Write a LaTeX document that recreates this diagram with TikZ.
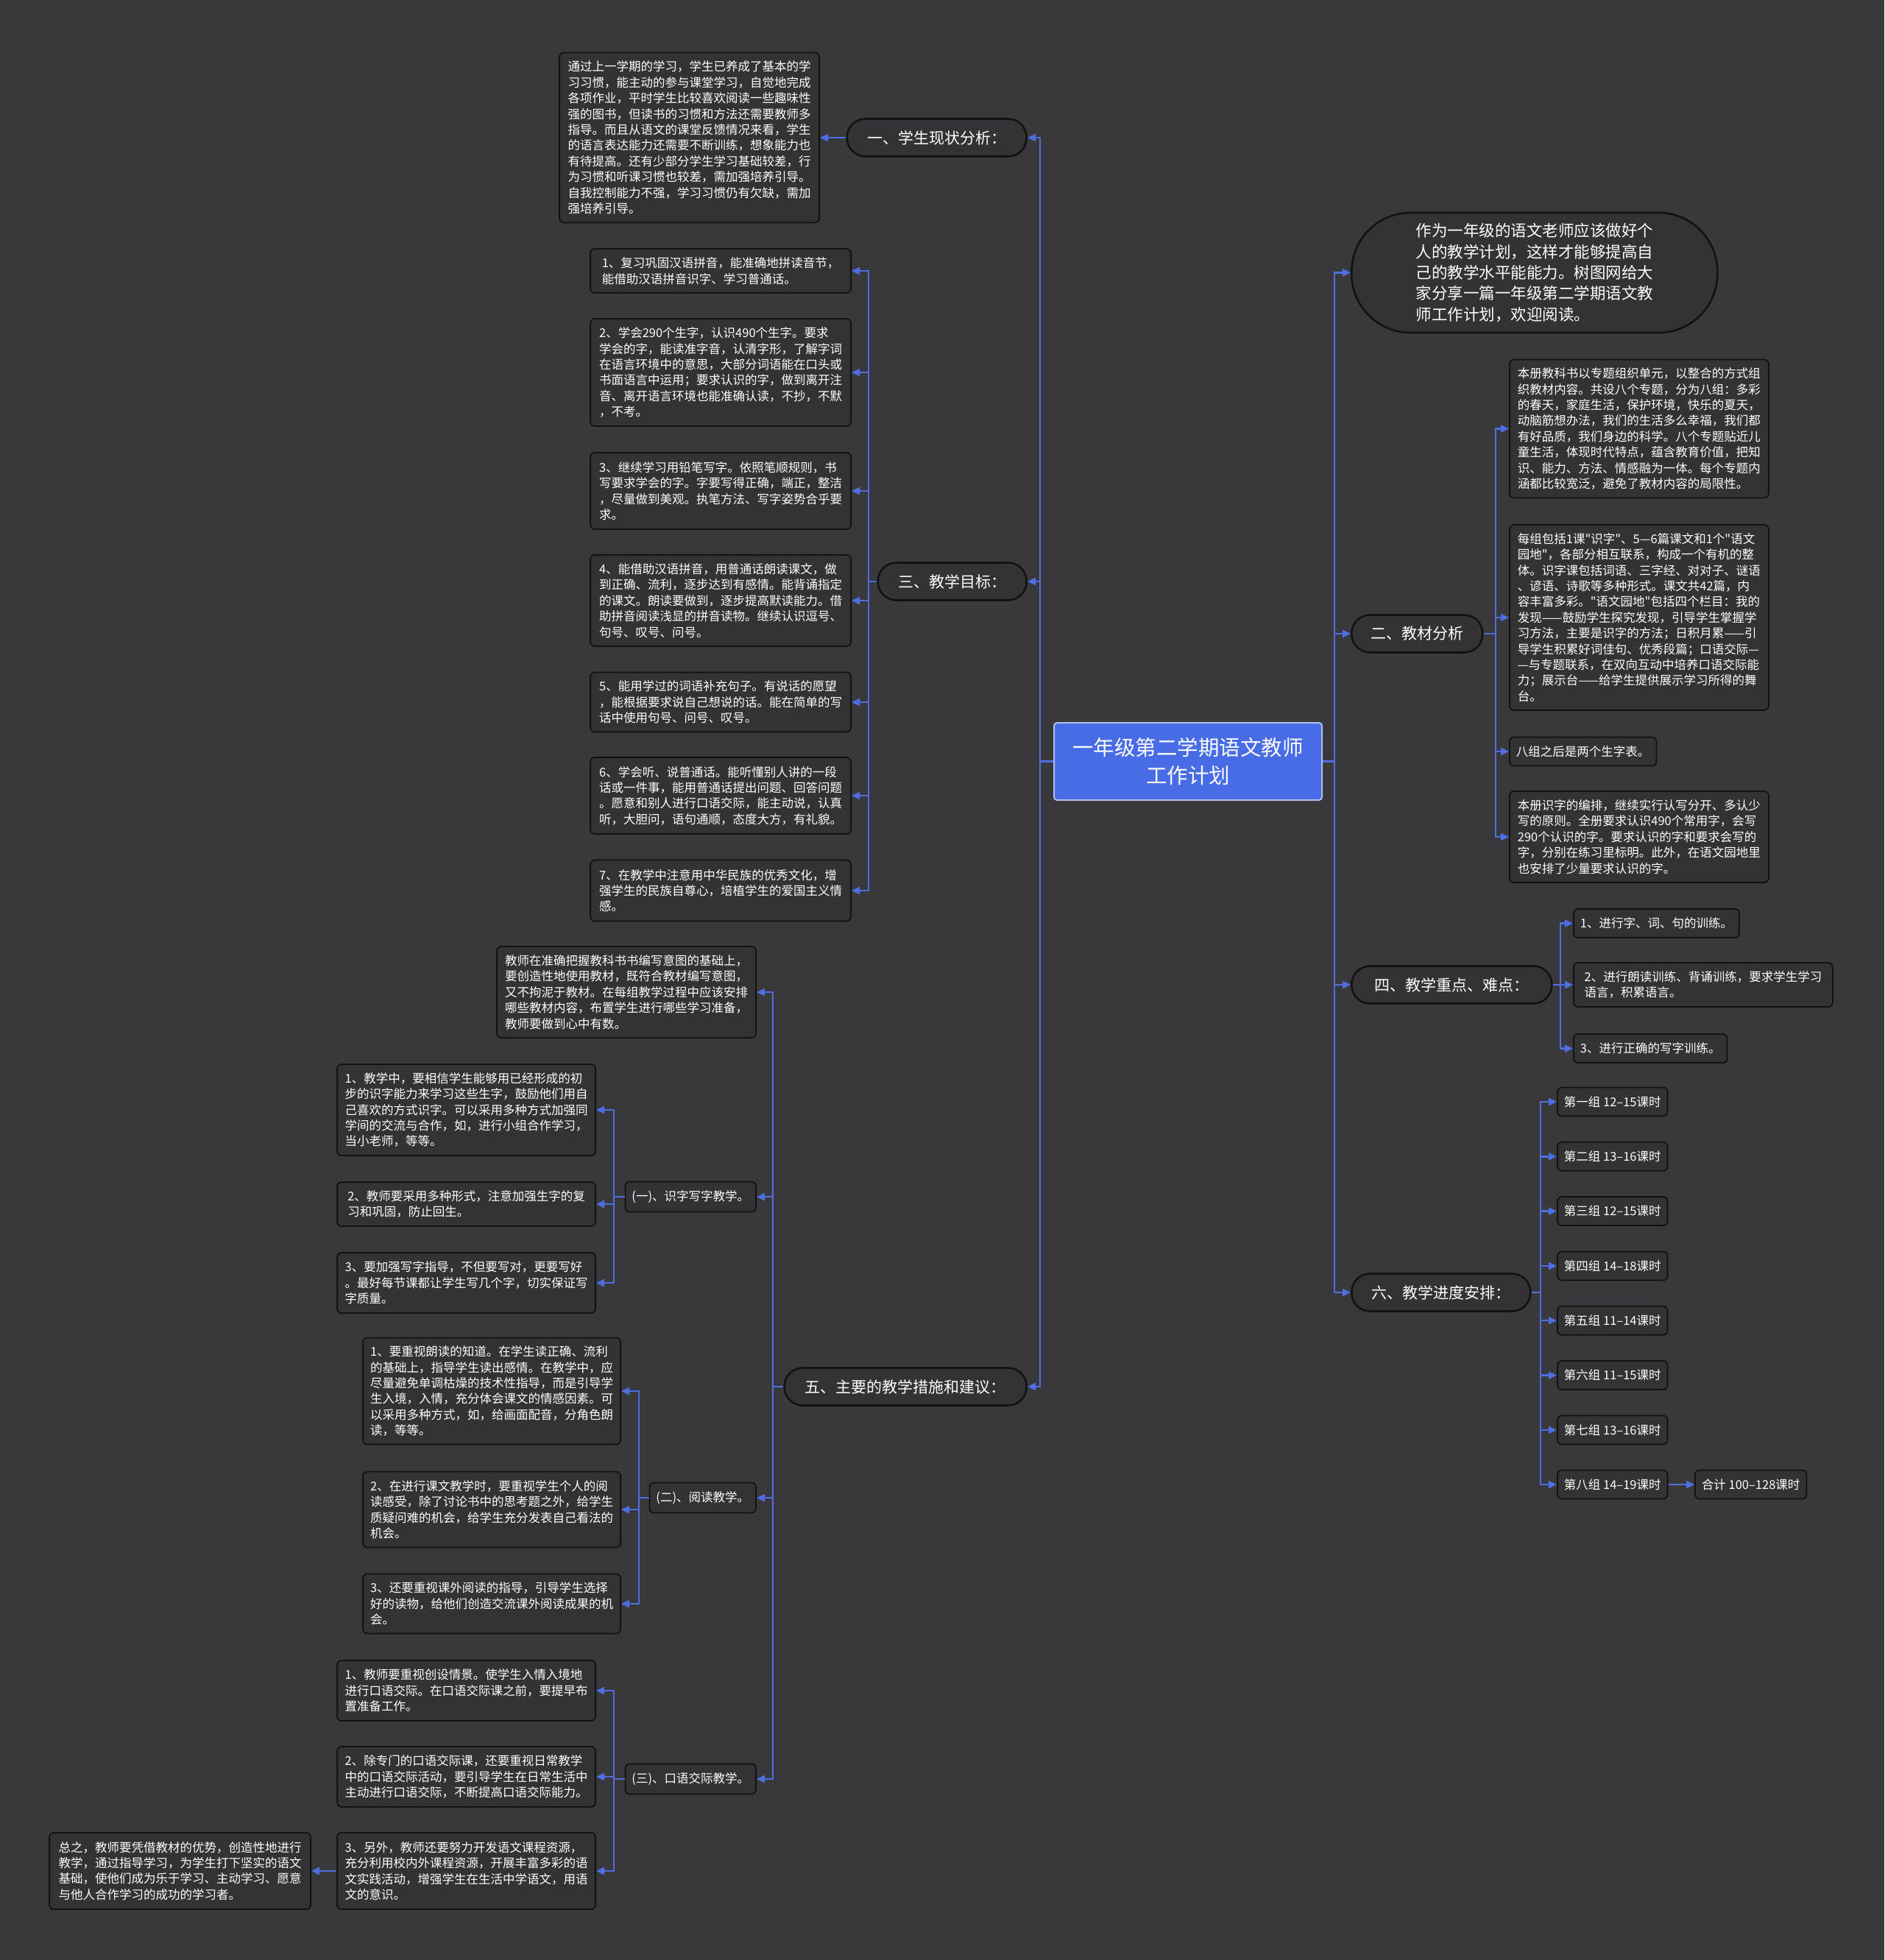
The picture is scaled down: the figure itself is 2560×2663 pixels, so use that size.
\documentclass[tikz,border=0pt]{standalone}
\usepackage{fontspec}
\setmainfont{Noto Sans CJK SC}
\newfontfamily\qfont{Noto Sans CJK SC}
\usetikzlibrary{arrows.meta}
\definecolor{bgc}{RGB}{57,57,59}
\definecolor{boxc}{RGB}{51,51,53}
\definecolor{bord}{RGB}{18,18,18}
\definecolor{linkc}{RGB}{78,110,225}
\definecolor{ctrfill}{RGB}{72,108,230}
\definecolor{ctrbord}{RGB}{175,188,235}
\newcommand\txS{\fontsize{16.5}{21.4}\selectfont}
\newcommand\txP{\fontsize{21}{26}\selectfont}
\newcommand\txI{\fontsize{21.5}{28.4}\selectfont}
\newcommand\txC{\fontsize{28.5}{37.4}\selectfont}
\newcommand\dq{{\qfont\symbol{34}}}
\begin{document}
\begin{tikzpicture}[x=1pt,y=-1pt,
  box/.style={draw=bord, line width=1.8pt, rounded corners=6pt, fill=boxc, text=white, font=\txS, align=left, inner xsep=9pt, inner ysep=4pt},
  one/.style={box, minimum height=39pt},
  pill/.style={draw=bord, line width=2.6pt, rounded corners=25pt, fill=boxc, text=white, font=\txP, minimum height=51pt, inner xsep=20pt},
  conn/.style={draw=linkc, line width=2.4pt, -{Triangle[length=11pt,width=10pt]}},
]
\fill[bgc] (0,0) rectangle (2560,2663);
\useasboundingbox (0,0) rectangle (2560,2663);

% centre
\node[draw=ctrbord, line width=2pt, fill=ctrfill, rounded corners=4pt, text=white, font=\txC, align=center, minimum width=364pt, minimum height=105pt] (ctr) at (1614,1034.5) {一年级第二学期语文教师\\工作计划};

% ---------- left side ----------
\node[pill, minimum width=244pt, anchor=east] (p1) at (1396,187) {一、学生现状分析：};
\node[box, minimum width=353pt, minimum height=231pt, anchor=east] (s1) at (1114,187) {通过上一学期的学习，学生已养成了基本的学\\习习惯，能主动的参与课堂学习，自觉地完成\\各项作业，平时学生比较喜欢阅读一些趣味性\\强的图书，但读书的习惯和方法还需要教师多\\指导。而且从语文的课堂反馈情况来看，学生\\的语言表达能力还需要不断训练，想象能力也\\有待提高。还有少部分学生学习基础较差，行\\为习惯和听课习惯也较差，需加强培养引导。\\自我控制能力不强，学习习惯仍有欠缺，需加\\强培养引导。};

\node[pill, minimum width=202pt, anchor=east] (p3) at (1396,790) {三、教学目标：};
\node[box, minimum width=354pt, minimum height=60pt, anchor=east] (g1) at (1157,368) {1、复习巩固汉语拼音，能准确地拼读音节，\\能借助汉语拼音识字、学习普通话。};
\node[box, minimum width=354pt, minimum height=146pt, anchor=east] (g2) at (1157,506) {2、学会290个生字，认识490个生字。要求\\学会的字，能读准字音，认清字形，了解字词\\在语言环境中的意思，大部分词语能在口头或\\书面语言中运用；要求认识的字，做到离开注\\音、离开语言环境也能准确认读，不抄，不默\\，不考。};
\node[box, minimum width=354pt, minimum height=104pt, anchor=east] (g3) at (1157,667) {3、继续学习用铅笔写字。依照笔顺规则，书\\写要求学会的字。字要写得正确，端正，整洁\\，尽量做到美观。执笔方法、写字姿势合乎要\\求。};
\node[box, minimum width=354pt, minimum height=124pt, anchor=east] (g4) at (1157,816) {4、能借助汉语拼音，用普通话朗读课文，做\\到正确、流利，逐步达到有感情。能背诵指定\\的课文。朗读要做到，逐步提高默读能力。借\\助拼音阅读浅显的拼音读物。继续认识逗号、\\句号、叹号、问号。};
\node[box, minimum width=354pt, minimum height=81pt, anchor=east] (g5) at (1157,954) {5、能用学过的词语补充句子。有说话的愿望\\，能根据要求说自己想说的话。能在简单的写\\话中使用句号、问号、叹号。};
\node[box, minimum width=354pt, minimum height=104pt, anchor=east] (g6) at (1157,1081) {6、学会听、说普通话。能听懂别人讲的一段\\话或一件事，能用普通话提出问题、回答问题\\。愿意和别人进行口语交际，能主动说，认真\\听，大胆问，语句通顺，态度大方，有礼貌。};
\node[box, minimum width=354pt, minimum height=83pt, anchor=east] (g7) at (1157,1210) {7、在教学中注意用中华民族的优秀文化，增\\强学生的民族自尊心，培植学生的爱国主义情\\感。};

\node[pill, minimum width=329pt, anchor=east] (p5) at (1396,1884) {五、主要的教学措施和建议：};
\node[box, minimum width=352pt, minimum height=124pt, anchor=east] (m0) at (1028,1348) {教师在准确把握教科书书编写意图的基础上，\\要创造性地使用教材，既符合教材编写意图，\\又不拘泥于教材。在每组教学过程中应该安排\\哪些教材内容，布置学生进行哪些学习准备，\\教师要做到心中有数。};
\node[box, minimum height=41pt, anchor=east] (L1) at (1028,1626) {(一)、识字写字教学。};
\node[box, minimum width=351pt, minimum height=124pt, anchor=east] (a1) at (810,1508) {1、教学中，要相信学生能够用已经形成的初\\步的识字能力来学习这些生字，鼓励他们用自\\己喜欢的方式识字。可以采用多种方式加强同\\学间的交流与合作，如，进行小组合作学习，\\当小老师，等等。};
\node[box, minimum width=351pt, minimum height=60pt, anchor=east] (a2) at (810,1636) {2、教师要采用多种形式，注意加强生字的复\\习和巩固，防止回生。};
\node[box, minimum width=351pt, minimum height=82pt, anchor=east] (a3) at (810,1743) {3、要加强写字指导，不但要写对，更要写好\\。最好每节课都让学生写几个字，切实保证写\\字质量。};

\node[box, minimum height=41pt, anchor=east] (L2) at (1028,2035) {(二)、阅读教学。};
\node[box, minimum width=350pt, minimum height=145pt, anchor=east] (b1) at (844,1890) {1、要重视朗读的知道。在学生读正确、流利\\的基础上，指导学生读出感情。在教学中，应\\尽量避免单调枯燥的技术性指导，而是引导学\\生入境，入情，充分体会课文的情感因素。可\\以采用多种方式，如，给画面配音，分角色朗\\读，等等。};
\node[box, minimum width=350pt, minimum height=103pt, anchor=east] (b2) at (844,2051) {2、在进行课文教学时，要重视学生个人的阅\\读感受，除了讨论书中的思考题之外，给学生\\质疑问难的机会，给学生充分发表自己看法的\\机会。};
\node[box, minimum width=350pt, minimum height=81pt, anchor=east] (b3) at (844,2179) {3、还要重视课外阅读的指导，引导学生选择\\好的读物，给他们创造交流课外阅读成果的机\\会。};

\node[box, minimum height=41pt, anchor=east] (L3) at (1028,2417) {(三)、口语交际教学。};
\node[box, minimum width=351pt, minimum height=82pt, anchor=east] (c1) at (810,2297) {1、教师要重视创设情景。使学生入情入境地\\进行口语交际。在口语交际课之前，要提早布\\置准备工作。};
\node[box, minimum width=351pt, minimum height=82pt, anchor=east] (c2) at (810,2414) {2、除专门的口语交际课，还要重视日常教学\\中的口语交际活动，要引导学生在日常生活中\\主动进行口语交际，不断提高口语交际能力。};
\node[box, minimum width=351pt, minimum height=104pt, anchor=east] (c3) at (810,2542) {3、另外，教师还要努力开发语文课程资源，\\充分利用校内外课程资源，开展丰富多彩的语\\文实践活动，增强学生在生活中学语文，用语\\文的意识。};
\node[box, minimum width=355pt, minimum height=104pt, anchor=east] (d) at (423,2542) {总之，教师要凭借教材的优势，创造性地进行\\教学，通过指导学习，为学生打下坚实的语文\\基础，使他们成为乐于学习、主动学习、愿意\\与他人合作学习的成功的学习者。};

% ---------- right side ----------
\node[draw=bord, line width=2.6pt, rounded corners=80pt, fill=boxc, text=white, font=\txI, align=left, minimum width=497pt, minimum height=163pt, anchor=west] (intro) at (1835,370.5) {作为一年级的语文老师应该做好个\\人的教学计划，这样才能够提高自\\己的教学水平能能力。树图网给大\\家分享一篇一年级第二学期语文教\\师工作计划，欢迎阅读。};

\node[pill, minimum width=178pt, anchor=west] (p2) at (1835,861) {二、教材分析};
\node[box, minimum width=352pt, minimum height=188pt, anchor=west] (e1) at (2050,582.5) {本册教科书以专题组织单元，以整合的方式组\\织教材内容。共设八个专题，分为八组：多彩\\的春天，家庭生活，保护环境，快乐的夏天，\\动脑筋想办法，我们的生活多么幸福，我们都\\有好品质，我们身边的科学。八个专题贴近儿\\童生活，体现时代特点，蕴含教育价值，把知\\识、能力、方法、情感融为一体。每个专题内\\涵都比较宽泛，避免了教材内容的局限性。};
\node[box, minimum width=352pt, minimum height=252pt, anchor=west] (e2) at (2050,839) {每组包括1课\dq 识字\dq 、5—6篇课文和1个\dq 语文\\园地\dq ，各部分相互联系，构成一个有机的整\\体。识字课包括词语、三字经、对对子、谜语\\、谚语、诗歌等多种形式。课文共42篇，内\\容丰富多彩。\dq 语文园地\dq 包括四个栏目：我的\\发现——鼓励学生探究发现，引导学生掌握学\\习方法，主要是识字的方法；日积月累——引\\导学生积累好词佳句、优秀段篇；口语交际—\\—与专题联系，在双向互动中培养口语交际能\\力；展示台——给学生提供展示学习所得的舞\\台。};
\node[one, anchor=west] (e3) at (2050,1021) {八组之后是两个生字表。};
\node[box, minimum width=352pt, minimum height=124pt, anchor=west] (e4) at (2050,1137) {本册识字的编排，继续实行认写分开、多认少\\写的原则。全册要求认识490个常用字，会写\\290个认识的字。要求认识的字和要求会写的\\字，分别在练习里标明。此外，在语文园地里\\也安排了少量要求认识的字。};

\node[pill, minimum width=272pt, anchor=west] (p4) at (1835,1338) {四、教学重点、难点：};
\node[one, anchor=west] (f1) at (2137,1254.5) {1、进行字、词、句的训练。};
\node[box, minimum width=352pt, minimum height=60pt, anchor=west] (f2) at (2137,1338) {2、进行朗读训练、背诵训练，要求学生学习\\语言，积累语言。};
\node[one, anchor=west] (f3) at (2137,1424.5) {3、进行正确的写字训练。};

\node[pill, minimum width=243pt, anchor=west] (p6) at (1835,1756) {六、教学进度安排：};
\node[one, anchor=west] (h1) at (2115,1497) {第一组 12–15课时};
\node[one, anchor=west] (h2) at (2115,1571.3) {第二组 13–16课时};
\node[one, anchor=west] (h3) at (2115,1645.6) {第三组 12–15课时};
\node[one, anchor=west] (h4) at (2115,1720) {第四组 14–18课时};
\node[one, anchor=west] (h5) at (2115,1794.2) {第五组 11–14课时};
\node[one, anchor=west] (h6) at (2115,1868.5) {第六组 11–15课时};
\node[one, anchor=west] (h7) at (2115,1942.8) {第七组 13–16课时};
\node[one, anchor=west] (h8) at (2115,2017) {第八组 14–19课时};
\node[one, anchor=west] (tot) at (2302,2017) {合计 100–128课时};

% ---------- connectors ----------
\coordinate (LT) at (1413,1034.5);
\foreach \n in {p1,p3,p5} \draw[conn] (ctr.west) -- (LT) |- (\n.east);
\draw[conn] (p1.west) -- (s1.east);
\coordinate (T3) at (1180,790);
\foreach \n in {g1,g2,g3,g4,g5,g6,g7} \draw[conn] (p3.west) -- (T3) |- (\n.east);
\coordinate (T5) at (1050,1884);
\foreach \n in {m0,L1,L2,L3} \draw[conn] (p5.west) -- (T5) |- (\n.east);
\coordinate (TA) at (834,1626);
\foreach \n in {a1,a2,a3} \draw[conn] (L1.west) -- (TA) |- (\n.east);
\coordinate (TB) at (868,2035);
\foreach \n in {b1,b2,b3} \draw[conn] (L2.west) -- (TB) |- (\n.east);
\coordinate (TC) at (834,2417);
\foreach \n in {c1,c2,c3} \draw[conn] (L3.west) -- (TC) |- (\n.east);
\draw[conn] (c3.west) -- (d.east);

\coordinate (RT) at (1813,1034.5);
\foreach \n in {intro,p2,p4,p6} \draw[conn] (ctr.east) -- (RT) |- (\n.west);
\coordinate (T2) at (2032,861);
\foreach \n in {e1,e2,e3,e4} \draw[conn] (p2.east) -- (T2) |- (\n.west);
\coordinate (T4) at (2120,1338);
\foreach \n in {f1,f2,f3} \draw[conn] (p4.east) -- (T4) |- (\n.west);
\coordinate (T6) at (2093,1756);
\foreach \n in {h1,h2,h3,h4,h5,h6,h7,h8} \draw[conn] (p6.east) -- (T6) |- (\n.west);
\draw[conn] (h8.east) -- (tot.west);
\end{tikzpicture}
\end{document}
